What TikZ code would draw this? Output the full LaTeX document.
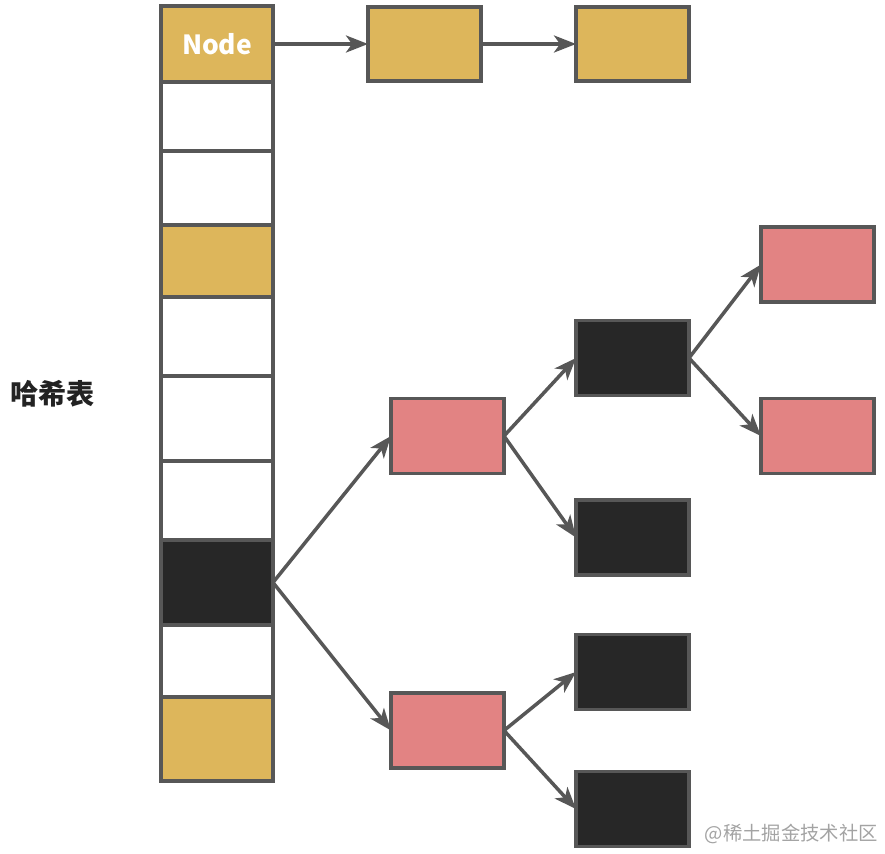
\documentclass[tikz,border=0pt]{standalone}
\usepackage{fontspec}
\usepackage{tikz}
\usetikzlibrary{arrows.meta, positioning}
\usepackage{xcolor}
\newfontfamily\cjk{Noto Sans CJK SC}
\definecolor{edgegray}{HTML}{575757}
\definecolor{goldfill}{HTML}{DDB65B}
\definecolor{pinkfill}{HTML}{E28383}
\definecolor{darkfill}{HTML}{272727}
\definecolor{textdark}{HTML}{222222}
\definecolor{markgray}{HTML}{A3A3A3}
\tikzstyle{cell} = [rectangle, minimum width=2.24cm, inner sep=0pt, outer sep=0pt, draw=edgegray, line width=2.2pt, fill=white]
\tikzstyle{goldcell} = [cell, fill=goldfill]
\tikzstyle{darkcell} = [cell, fill=darkfill]
\tikzstyle{box} = [rectangle, minimum width=2.26cm, minimum height=1.5cm, inner sep=0pt, outer sep=0pt, draw=edgegray, line width=2.2pt]
\tikzstyle{goldbox} = [box, fill=goldfill, minimum height=1.48cm]
\tikzstyle{redbox} = [box, fill=pinkfill]
\tikzstyle{blackbox} = [box, fill=darkfill]
\tikzstyle{arrow} = [draw=edgegray, line width=2pt, -{Stealth[length=0.44cm, width=0.34cm, inset=0.12cm]}]

\begin{document}
\begin{tikzpicture}
\useasboundingbox (0,0) rectangle (17.7,-17.06);

% hash table column
\node (c0) [goldcell, minimum height=1.52cm] at (4.34,-0.88) {\cjk\bfseries\fontsize{15}{18}\selectfont\color{white}Node};
\node (c1) [cell, minimum height=1.38cm, below=0pt of c0] {};
\node (c2) [cell, minimum height=1.48cm, below=0pt of c1] {};
\node (c3) [goldcell, minimum height=1.44cm, below=0pt of c2] {};
\node (c4) [cell, minimum height=1.58cm, below=0pt of c3] {};
\node (c5) [cell, minimum height=1.70cm, below=0pt of c4] {};
\node (c6) [cell, minimum height=1.58cm, below=0pt of c5] {};
\node (c7) [darkcell, minimum height=1.70cm, below=0pt of c6] {};
\node (c8) [cell, minimum height=1.44cm, below=0pt of c7] {};
\node (c9) [goldcell, minimum height=1.68cm, below=0pt of c8] {};

\node (title) [inner sep=0pt, text=textdark, left=1.32cm of c5, yshift=0.49cm] {\cjk\bfseries\fontsize{16}{19}\selectfont 哈希表};

% linked list
\node (list1) [goldbox, right=1.9cm of c0] {};
\node (list2) [goldbox, right=1.9cm of list1] {};

% red-black tree
\node (red1) [redbox, right=2.36cm of c7, yshift=2.93cm] {};
\node (red2) [redbox, right=2.36cm of c7, yshift=-2.96cm] {};
\node (black1) [blackbox, right=1.44cm of red1, yshift=1.56cm] {};
\node (black2) [blackbox, right=1.44cm of red1, yshift=-2.03cm] {};
\node (black3) [blackbox, right=1.44cm of red2, yshift=1.17cm] {};
\node (black4) [blackbox, right=1.44cm of red2, yshift=-1.57cm] {};
\node (red3) [redbox, right=1.44cm of black1, yshift=1.87cm] {};
\node (red4) [redbox, right=1.44cm of black1, yshift=-1.56cm] {};

\node (watermark) [anchor=east, inner sep=0pt, text=markgray] at (17.56,-16.68) {\cjk\fontsize{11}{13}\selectfont @稀土掘金技术社区};

\draw [arrow] (c0.east) -- (list1.west);
\draw [arrow] (list1.east) -- (list2.west);
\draw [arrow] (c7.east) -- (red1.west);
\draw [arrow] (c7.east) -- (red2.west);
\draw [arrow] (red1.east) -- (black1.west);
\draw [arrow] (red1.east) -- (black2.west);
\draw [arrow] (red2.east) -- (black3.west);
\draw [arrow] (red2.east) -- (black4.west);
\draw [arrow] (black1.east) -- (red3.west);
\draw [arrow] (black1.east) -- (red4.west);

\end{tikzpicture}
\end{document}
